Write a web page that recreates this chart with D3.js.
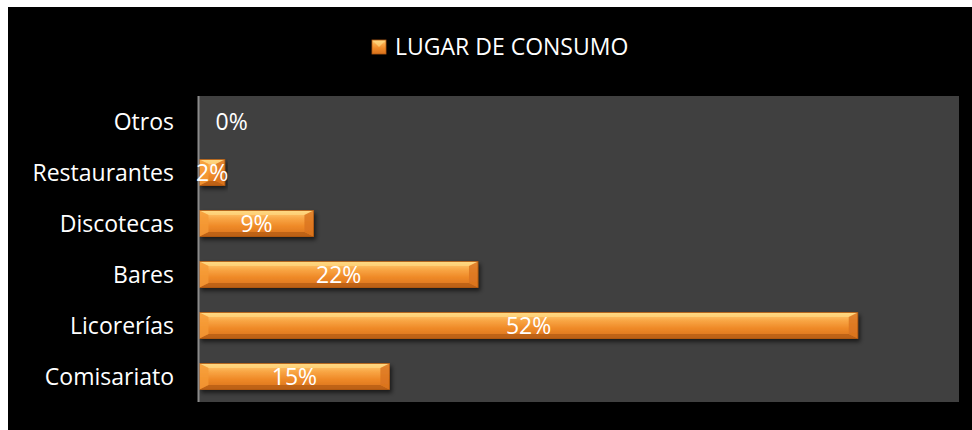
<!DOCTYPE html>
<html><head><meta charset="utf-8">
<script src="https://cdn.jsdelivr.net/npm/d3@7"></script>
<style>html,body{margin:0;padding:0;background:#fff;}svg{display:block;}</style>
</head><body>
<svg id="chart" width="972" height="430"></svg>
<script>
const categories = ["Comisariato","Licorerías","Bares","Discotecas","Restaurantes","Otros"];
const values = [0.15,0.52,0.22,0.09,0.02,0.00];
const seriesName = "LUGAR DE CONSUMO";
const xDomainMax = 0.6;

const svg = d3.select("#chart");
const font = "'Open Sans', sans-serif";
const fs = "23px";
const plot = {x0:198, x1:959, y0:96, y1:402};

svg.append("rect").attr("x",8).attr("y",7).attr("width",964).attr("height",423).attr("fill","#000");

const defs = svg.append("defs");
const g = defs.append("linearGradient").attr("id","barGrad").attr("x1",0).attr("y1",0).attr("x2",0).attr("y2",1);
[[0,"#ffd27a"],[0.3,"#f9a746"],[0.6,"#ef8a28"],[1,"#d8711c"]].forEach(s=>g.append("stop").attr("offset",s[0]).attr("stop-color",s[1]));
const f = defs.append("filter").attr("id","shadow").attr("x","-5%").attr("y","-20%").attr("width","115%").attr("height","160%");
f.append("feDropShadow").attr("dx",2).attr("dy",3).attr("stdDeviation",2).attr("flood-color","#000").attr("flood-opacity",0.6);

svg.append("rect").attr("x",plot.x0).attr("y",plot.y0).attr("width",plot.x1-plot.x0).attr("height",plot.y1-plot.y0).attr("fill","#404040");

const x = d3.scaleLinear().domain([0,xDomainMax]).range([plot.x0+1.5, plot.x1]);
const y = d3.scaleBand().domain(categories).range([plot.y1, plot.y0]).paddingInner(0.49).paddingOuter(0.245);

const data = categories.map((c,i)=>({c, v:values[i]}));
const bars = svg.append("g");
data.forEach(d=>{
  if (d.v<=0) return;
  const x0 = x(0), x1 = x(d.v), y0 = y(d.c), h = y.bandwidth(), y1 = y0+h;
  const b = Math.min(9, (x1-x0)/2, h/2.5);
  const bg = bars.append("g").attr("filter","url(#shadow)");
  bg.append("rect").attr("x",x0).attr("y",y0).attr("width",x1-x0).attr("height",h).attr("fill","url(#barGrad)");
  bg.append("path").attr("d",`M${x0},${y0}L${x1},${y0}L${x1-b},${y0+b*0.5}L${x0+b},${y0+b*0.5}Z`).attr("fill","#ffe08a").attr("opacity",0.55);
  bg.append("path").attr("d",`M${x0},${y1}L${x1},${y1}L${x1-b},${y1-b*0.5}L${x0+b},${y1-b*0.5}Z`).attr("fill","#a4520f").attr("opacity",0.55);
  bg.append("path").attr("d",`M${x0},${y0}L${x0+b},${y0+b*0.5}L${x0+b},${y1-b*0.5}L${x0},${y1}Z`).attr("fill","#f59a34").attr("opacity",0.8);
  bg.append("path").attr("d",`M${x1},${y0}L${x1-b},${y0+b*0.5}L${x1-b},${y1-b*0.5}L${x1},${y1}Z`).attr("fill","#d9731f").attr("opacity",0.8);
  bg.append("rect").attr("x",x0).attr("y",y0).attr("width",x1-x0).attr("height",h).attr("fill","none").attr("stroke","#b35a12").attr("stroke-width",0.8);
});

svg.append("line").attr("x1",plot.x0+0.5).attr("x2",plot.x0+0.5).attr("y1",plot.y0).attr("y2",plot.y1).attr("stroke","#8a8a8a").attr("stroke-width",2);

const ax = svg.append("g").attr("transform",`translate(${plot.x0-24},0)`).call(d3.axisLeft(y).tickSize(0).tickPadding(0));
ax.select(".domain").remove();
ax.selectAll("text").attr("fill","#fff").style("font-family",font).style("font-size",fs).attr("dy","0.36em");

svg.append("g").selectAll("text").data(data).join("text")
  .attr("x",d=> d.v>0 ? (x(0)+x(d.v))/2 : x(0)+16)
  .attr("y",d=>y(d.c)+y.bandwidth()/2)
  .attr("dy","0.36em")
  .attr("text-anchor",d=> d.v>0 ? "middle":"start")
  .attr("fill","#fff").style("font-family",font).style("font-size",fs)
  .text(d=>d3.format(".0%")(d.v));

const lg = svg.append("g").attr("transform","translate(372,40)");
lg.append("rect").attr("width",14).attr("height",14).attr("fill","url(#barGrad)").attr("stroke","#b35a12").attr("stroke-width",0.8);
lg.append("path").attr("d","M1,1L13,1L7,7Z").attr("fill","#ffe08a").attr("opacity",0.6);
lg.append("text").attr("x",23).attr("y",7).attr("dy","0.36em").attr("fill","#fff").style("font-family",font).style("font-size",fs).text(seriesName);
</script>
</body></html>
